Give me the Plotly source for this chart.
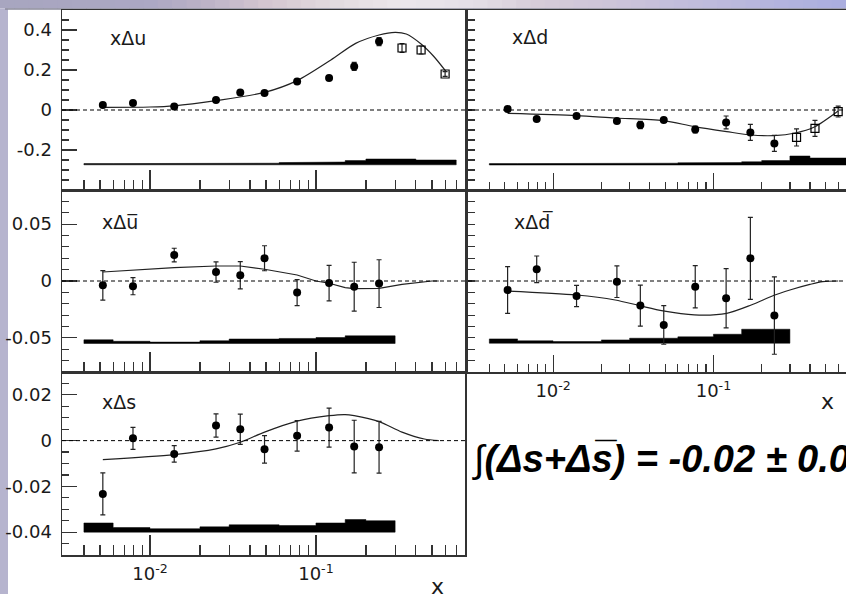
import numpy as np
import plotly.graph_objects as go

# ---------------- data ----------------
x_pts = [0.0052, 0.0079, 0.014, 0.025, 0.035, 0.049, 0.077, 0.12, 0.17, 0.24]
x_open = [0.33, 0.43, 0.6]
bin_edges = [0.004, 0.006, 0.01, 0.02, 0.03, 0.06, 0.1, 0.15, 0.2, 0.3, 0.4, 0.7]
sea_edges = [0.004, 0.006, 0.01, 0.02, 0.03, 0.06, 0.1, 0.15, 0.2, 0.3]

# x Delta u
du_vals = [0.025, 0.035, 0.018, 0.050, 0.088, 0.085, 0.143, 0.160, 0.218, 0.342]
du_err = [0.008, 0.008, 0.010, 0.008, 0.008, 0.008, 0.010, 0.010, 0.020, 0.020]
du_open_vals = [0.31, 0.30, 0.18]
du_open_err = [0.022, 0.020, 0.012]
du_curve_x = [0.0052, 0.01, 0.014, 0.025, 0.049, 0.077, 0.123, 0.1735, 0.24, 0.30, 0.35, 0.43, 0.51, 0.607]
du_curve_y = [0.013, 0.015, 0.021, 0.047, 0.088, 0.147, 0.25, 0.333, 0.375, 0.388, 0.38, 0.33, 0.27, 0.193]
du_sys_base = -0.274
du_sys_top = [-0.268, -0.268, -0.268, -0.266, -0.266, -0.263, -0.260, -0.253, -0.245, -0.245, -0.250]

# x Delta d
dd_vals = [0.005, -0.045, -0.030, -0.055, -0.075, -0.050, -0.098, -0.062, -0.112, -0.167]
dd_err = [0.012, 0.008, 0.008, 0.008, 0.018, 0.008, 0.017, 0.032, 0.040, 0.040]
dd_open_vals = [-0.137, -0.092, -0.008]
dd_open_err = [0.043, 0.040, 0.027]
dd_curve_x = [0.0052, 0.014, 0.0244, 0.0485, 0.076, 0.121, 0.172, 0.239, 0.324, 0.426, 0.6]
dd_curve_y = [-0.017, -0.028, -0.040, -0.053, -0.083, -0.108, -0.125, -0.128, -0.115, -0.085, -0.005]
dd_sys_base = -0.275
dd_sys_top = [-0.268, -0.268, -0.268, -0.266, -0.266, -0.264, -0.263, -0.259, -0.253, -0.230, -0.240]

# x Delta u-bar
dub_vals = [-0.0038, -0.0046, 0.0228, 0.0079, 0.0050, 0.0200, -0.0102, -0.0018, -0.0050, -0.0023]
dub_err = [0.013, 0.0075, 0.006, 0.009, 0.012, 0.011, 0.0114, 0.0156, 0.0215, 0.021]
dub_curve_x = [0.0052, 0.014, 0.025, 0.035, 0.049, 0.077, 0.1, 0.12, 0.15, 0.17, 0.24, 0.33, 0.5, 0.55]
dub_curve_y = [0.0079, 0.0117, 0.0132, 0.0132, 0.0103, 0.0053, 0.0, -0.002, -0.0058, -0.0067, -0.0064, -0.003, 0.0, 0.0]
dub_sys_base = -0.0549
dub_sys_top = [-0.0517, -0.0530, -0.0537, -0.0525, -0.0510, -0.0505, -0.0497, -0.0482, -0.0482]

# x Delta d-bar
ddb_vals = [-0.0079, 0.0103, -0.0132, -0.0006, -0.0216, -0.0386, -0.0050, -0.0152, 0.0199, -0.0304]
ddb_err = [0.0205, 0.0117, 0.0094, 0.0139, 0.018, 0.017, 0.0186, 0.026, 0.036, 0.034]
ddb_curve_x = [0.0052, 0.014, 0.0244, 0.0345, 0.0485, 0.076, 0.121, 0.172, 0.239, 0.3, 0.4, 0.48, 0.6]
ddb_curve_y = [-0.0088, -0.0123, -0.0167, -0.0216, -0.0263, -0.0298, -0.0284, -0.0211, -0.0125, -0.0079, -0.003, -0.0005, 0.0]
ddb_sys_base = -0.0547
ddb_sys_top = [-0.0509, -0.0526, -0.0532, -0.0518, -0.0503, -0.0491, -0.0468, -0.0424, -0.0424]

# x Delta s
ds_vals = [-0.0233, 0.0010, -0.0058, 0.0066, 0.0050, -0.0038, 0.0021, 0.0057, -0.0026, -0.0029]
ds_err = [0.0092, 0.0048, 0.0036, 0.0051, 0.0066, 0.0060, 0.0067, 0.0085, 0.0115, 0.0113]
ds_curve_x = [0.0052, 0.014, 0.025, 0.035, 0.049, 0.077, 0.12, 0.15, 0.17, 0.24, 0.33, 0.45, 0.55]
ds_curve_y = [-0.0083, -0.0061, -0.0036, -0.0007, 0.0037, 0.0085, 0.0109, 0.0114, 0.0109, 0.0083, 0.0037, 0.0007, 0.0]
ds_sys_base = -0.0400
ds_sys_top = [-0.0360, -0.0380, -0.0385, -0.0377, -0.0368, -0.0371, -0.0360, -0.0345, -0.0350]

panel_labels = ["x\u0394u", "x\u0394d", "x\u0394u\u0305", "x\u0394d\u0305", "x\u0394s"]
x_tick_vals = [0.01, 0.1]
x_tick_text = ["10<sup>-2</sup>", "10<sup>-1</sup>"]
x_minor_vals = [0.004, 0.005, 0.006, 0.007, 0.008, 0.009,
                0.02, 0.03, 0.04, 0.05, 0.06, 0.07, 0.08, 0.09,
                0.2, 0.3, 0.4, 0.5, 0.6, 0.7]
integral_sign = "\u222b"
integral_text = "(\u0394s+\u0394s\u0305) = -0.02 \u00b1 0.03"

# ---------------- figure ----------------
W, H = 846, 594
fig = go.Figure()


def px_x(p):
    return p / W


def px_y(p):
    return 1 - p / H


def band_poly(edges, tops, base):
    xs, ys = [edges[0]], [base]
    for i, t in enumerate(tops):
        xs += [edges[i], edges[i + 1]]
        ys += [t, t]
    xs += [edges[len(tops)], edges[0]]
    ys += [base, base]
    return xs, ys


def add_panel(k, edges, tops, base, cx, cy, shape, vals, errs, ov=None, oe=None):
    xa, ya = ("x", "y") if k == 1 else (f"x{k}", f"y{k}")
    bx, by = band_poly(edges, tops, base)
    fig.add_trace(go.Scatter(x=bx, y=by, xaxis=xa, yaxis=ya, mode="lines", fill="toself",
                             fillcolor="black", line=dict(width=0.5, color="black"),
                             hoverinfo="skip", showlegend=False))
    fig.add_trace(go.Scatter(x=cx, y=cy, xaxis=xa, yaxis=ya, mode="lines",
                             line=dict(color="#222", width=1.2, shape=shape, smoothing=0.8),
                             showlegend=False))
    fig.add_trace(go.Scatter(x=x_pts, y=vals, xaxis=xa, yaxis=ya, mode="markers",
                             marker=dict(symbol="circle", size=8, color="black"),
                             error_y=dict(type="data", array=errs, color="#222", thickness=1.2, width=2.5),
                             showlegend=False))
    if ov is not None:
        fig.add_trace(go.Scatter(x=x_open, y=ov, xaxis=xa, yaxis=ya, mode="markers",
                                 marker=dict(symbol="square-open", size=8, color="black",
                                             line=dict(width=1.2, color="black")),
                                 error_y=dict(type="data", array=oe, color="#222", thickness=1.2, width=2.5),
                                 showlegend=False))
    fig.add_shape(type="line", xref=f"{xa} domain", yref=ya, x0=0, x1=1, y0=0, y1=0,
                  line=dict(color="black", width=1, dash="4px,3px"))


add_panel(1, bin_edges, du_sys_top, du_sys_base, du_curve_x, du_curve_y, "spline",
          du_vals, du_err, du_open_vals, du_open_err)
add_panel(2, bin_edges, dd_sys_top, dd_sys_base, dd_curve_x, dd_curve_y, "spline",
          dd_vals, dd_err, dd_open_vals, dd_open_err)
add_panel(3, sea_edges, dub_sys_top, dub_sys_base, dub_curve_x, dub_curve_y, "linear",
          dub_vals, dub_err)
add_panel(4, sea_edges, ddb_sys_top, ddb_sys_base, ddb_curve_x, ddb_curve_y, "spline",
          ddb_vals, ddb_err)
add_panel(5, sea_edges, ds_sys_top, ds_sys_base, ds_curve_x, ds_curve_y, "spline",
          ds_vals, ds_err)

FRAME = "#333"
TICKFONT = dict(family="DejaVu Sans", size=18, color="#1a1a1a")

LEFT = [px_x(62), px_x(465)]
RIGHT = [px_x(468), 1.0]
ROW1 = [px_y(190), px_y(10)]
ROW2 = [px_y(372), px_y(190)]
ROW3 = [px_y(555), px_y(372)]
RANGE_L = [-2.530, -0.102]
RANGE_R = [-2.531, -0.173]


def xax(domain, rng, anchor, labels, mlen):
    return dict(type="log", domain=domain, range=rng, anchor=anchor, showline=True,
                linecolor=FRAME, linewidth=1.5, mirror=True, ticks="inside", ticklen=mlen,
                tickwidth=1.2, tickcolor=FRAME, tickmode="array", tickvals=x_tick_vals,
                ticktext=x_tick_text, showticklabels=labels, showgrid=False, zeroline=False,
                tickfont=TICKFONT, ticklabelstandoff=2,
                minor=dict(tickmode="array", tickvals=x_minor_vals, ticks="inside",
                           ticklen=mlen // 2, tickwidth=1.2, tickcolor=FRAME, showgrid=False))


def yax(domain, rng, anchor, tvals, ttext, mdt, mirror, labels, mlen):
    return dict(domain=domain, range=rng, anchor=anchor, showline=True, linecolor=FRAME,
                linewidth=1.5, mirror=mirror, ticks="inside", ticklen=mlen, tickwidth=1.2,
                tickcolor=FRAME, tickmode="array", tickvals=tvals, ticktext=ttext,
                showticklabels=labels, showgrid=False, zeroline=False, tickfont=TICKFONT,
                ticklabelstandoff=5,
                minor=dict(dtick=mdt, tick0=0, ticks="inside", ticklen=7, tickwidth=1.2,
                           tickcolor=FRAME, showgrid=False))


fig.update_layout(
    xaxis=xax(LEFT, RANGE_L, "y", False, 20),
    yaxis=yax(ROW1, [-0.4, 0.5], "x", [-0.2, 0, 0.2, 0.4], ["-0.2", "0", "0.2", "0.4"], 0.05, True, True, 15),
    xaxis2=xax(RIGHT, RANGE_R, "y2", False, 17),
    yaxis2=yax(ROW1, [-0.4, 0.5], "x2", [-0.2, 0, 0.2, 0.4], ["", "", "", ""], 0.05, False, False, 13),
    xaxis3=xax(LEFT, RANGE_L, "y3", False, 20),
    yaxis3=yax(ROW2, [-0.08, 0.08], "x3", [-0.05, 0, 0.05], ["-0.05", "0", "0.05"], 0.01, True, True, 15),
    xaxis4=xax(RIGHT, RANGE_R, "y4", True, 17),
    yaxis4=yax(ROW2, [-0.08, 0.08], "x4", [-0.05, 0, 0.05], ["", "", ""], 0.01, False, False, 13),
    xaxis5=xax(LEFT, RANGE_L, "y5", True, 20),
    yaxis5=yax(ROW3, [-0.05, 0.03], "x5", [-0.04, -0.02, 0, 0.02], ["-0.04", "-0.02", "0", "0.02"], 0.005, True, True, 15),
)

# slide background strips (style only)
stops_px = [0, 150, 210, 270, 330, 400, 480, 540, 620, 700, 780, 846]
stops_col = [(168, 166, 192), (172, 168, 196), (190, 180, 200), (214, 200, 210), (226, 218, 222),
             (236, 232, 236), (228, 222, 230), (214, 204, 216), (204, 196, 218), (192, 188, 220),
             (180, 180, 222), (170, 174, 224)]
xs_grad = np.linspace(0, W, 60)
for i in range(len(xs_grad) - 1):
    xm = 0.5 * (xs_grad[i] + xs_grad[i + 1])
    c = [int(np.interp(xm, stops_px, [s[j] for s in stops_col])) for j in range(3)]
    fig.add_shape(type="rect", xref="paper", yref="paper", x0=px_x(xs_grad[i]), x1=px_x(xs_grad[i + 1]) + 0.001,
                  y0=px_y(8.5), y1=1, fillcolor=f"rgb({c[0]},{c[1]},{c[2]})", line_width=0, layer="below")
fig.add_shape(type="rect", xref="paper", yref="paper", x0=0, x1=px_x(8), y0=0, y1=px_y(8.5),
              fillcolor="rgb(182,180,206)", line_width=0, layer="below")
fig.add_shape(type="line", xref="paper", yref="paper", x0=px_x(5), x1=1, y0=px_y(9), y1=px_y(9),
              line=dict(color="#8a8a9a", width=1.5), layer="below")

LABELFONT = dict(family="DejaVu Sans", size=19, color="#1a1a1a")
label_pos = [(108, 38), (510, 37), (100, 222), (512, 222), (100, 402)]
for (lx, ly), txt in zip(label_pos, panel_labels):
    fig.add_annotation(text=txt, x=px_x(lx), y=px_y(ly), xref="paper", yref="paper",
                       xanchor="left", yanchor="middle", showarrow=False, font=LABELFONT)

AXFONT = dict(family="DejaVu Sans", size=22, color="#1a1a1a")
fig.add_annotation(text="x", x=px_x(437), y=px_y(586), xref="paper", yref="paper",
                   xanchor="center", yanchor="middle", showarrow=False, font=AXFONT)
fig.add_annotation(text="x", x=px_x(827), y=px_y(401), xref="paper", yref="paper",
                   xanchor="center", yanchor="middle", showarrow=False, font=AXFONT)

fig.add_annotation(text=integral_sign + "<b><i>" + integral_text + "</i></b>", x=px_x(470), y=px_y(459),
                   xref="paper", yref="paper", xanchor="left", yanchor="middle", showarrow=False,
                   font=dict(family="Liberation Sans", size=38, color="black"))

fig.update_layout(width=W, height=H, autosize=False, margin=dict(l=0, r=0, t=0, b=0),
                  paper_bgcolor="white", plot_bgcolor="white", showlegend=False,
                  hovermode=False)

fig.write_html("out.html", config={"displayModeBar": False, "staticPlot": True},
               post_script="document.body.style.margin='0';document.body.style.overflow='hidden';")
